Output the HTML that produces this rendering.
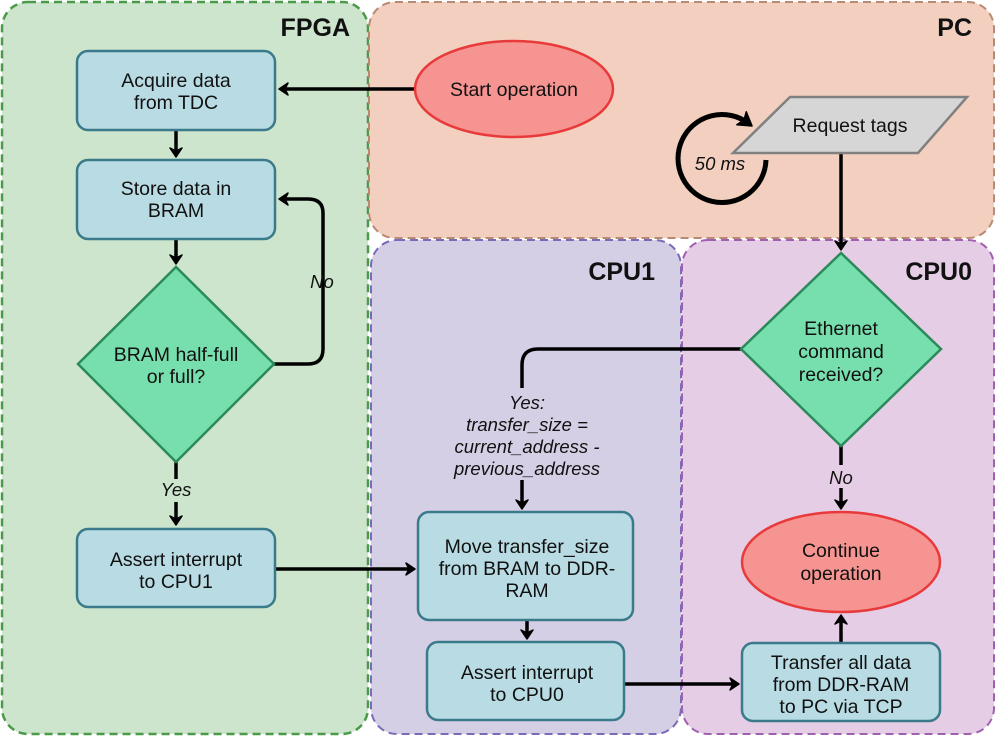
<!DOCTYPE html>
<html><head><meta charset="utf-8"><style>
html,body{margin:0;padding:0;background:#fff}
svg{display:block}
text{font-family:"Liberation Sans","DejaVu Sans",sans-serif;font-size:19.5px;fill:#111}
.t{font-weight:bold;font-size:25px}
.i{font-style:italic;font-size:18.5px}
</style></head><body>
<svg width="996" height="736" viewBox="0 0 996 736" xmlns="http://www.w3.org/2000/svg">
<defs>
<marker id="a" markerWidth="14" markerHeight="14" refX="8" refY="7" orient="auto" markerUnits="userSpaceOnUse">
<path d="M1,1 L10,7 L1,13 L4,7 Z" fill="#000" stroke="#000" stroke-width="1.5" stroke-linejoin="round"/>
</marker>
<marker id="b" markerWidth="18" markerHeight="18" refX="9" refY="9" orient="auto" markerUnits="userSpaceOnUse">
<path d="M1,1 L14,9 L1,17 L4,9 Z" fill="#000" stroke="#000" stroke-width="1.5" stroke-linejoin="round"/>
</marker>
</defs>
<rect x="2" y="2" width="366" height="732" rx="26" fill="#cde5cc" stroke="#4a9a4a" stroke-width="2.5" stroke-dasharray="8,5"/>
<rect x="369" y="2" width="625" height="236" rx="26" fill="#f2cfbe" stroke="#b88a74" stroke-width="2" stroke-dasharray="8,5"/>
<rect x="371" y="240" width="310" height="494" rx="26" fill="#d5cfe5" stroke="#7a6ab8" stroke-width="2" stroke-dasharray="8,5"/>
<rect x="682" y="240" width="312" height="494" rx="26" fill="#e5cde5" stroke="#a060b0" stroke-width="2" stroke-dasharray="8,5"/>
<text class="t" x="350" y="36" text-anchor="end">FPGA</text>
<text class="t" x="972" y="36" text-anchor="end">PC</text>
<text class="t" x="655" y="280" text-anchor="end">CPU1</text>
<text class="t" x="972" y="280" text-anchor="end">CPU0</text>

<g stroke="#000" stroke-width="3.5" fill="none">
<line x1="414" y1="89" x2="281" y2="89" marker-end="url(#a)"/>
<line x1="176" y1="130" x2="176" y2="155" marker-end="url(#a)"/>
<line x1="176" y1="239" x2="176" y2="262" marker-end="url(#a)"/>
<path d="M274,364 L308,364 Q323,364 323,349 L323,213 Q323,199 308,199 L281,199" marker-end="url(#a)"/>
<line x1="176" y1="462" x2="176" y2="479"/>
<line x1="176" y1="502" x2="176" y2="523" marker-end="url(#a)"/>
<line x1="275" y1="569" x2="413" y2="569" marker-end="url(#a)"/>
<line x1="527" y1="620" x2="527" y2="637" marker-end="url(#a)"/>
<line x1="624" y1="684" x2="737" y2="684" marker-end="url(#a)"/>
<line x1="841" y1="643" x2="841" y2="617" marker-end="url(#a)"/>
<line x1="841" y1="446" x2="841" y2="465"/>
<line x1="841" y1="488" x2="841" y2="507" marker-end="url(#a)"/>
<path d="M741,349 L538,349 Q522,349 522,365 L522,388"/>
<line x1="522" y1="480" x2="522" y2="507" marker-end="url(#a)"/>
<line x1="841" y1="153" x2="841" y2="248" marker-end="url(#a)"/>
<path d="M766,160 A44,44 0 1 1 748,123" stroke-width="5" marker-end="url(#b)"/>
</g>

<g fill="#b9dce4" stroke="#3a7a8a" stroke-width="2.5">
<rect x="77" y="51" width="198" height="79" rx="11"/>
<rect x="77" y="160" width="198" height="79" rx="11"/>
<rect x="77" y="529" width="198" height="78" rx="11"/>
<rect x="418" y="512" width="215" height="108" rx="11"/>
<rect x="427" y="642" width="197" height="78" rx="11"/>
<rect x="742" y="643" width="198" height="78" rx="11"/>
</g>
<g fill="#77dfae" stroke="#2a8a5a" stroke-width="2.5">
<polygon points="176,267 274,364 176,462 78,364"/>
<polygon points="841,253 941,349 841,446 741,349"/>
</g>
<g fill="#f59491" stroke="#e83a3a" stroke-width="2.5">
<ellipse cx="514" cy="89" rx="99" ry="48"/>
<ellipse cx="841" cy="562" rx="99" ry="50"/>
</g>
<polygon points="733,153 790,97 967,97 918,153" fill="#d6d6d6" stroke="#808080" stroke-width="2.5"/>

<g text-anchor="middle">
<text x="176" y="87">Acquire data</text><text x="176" y="109">from TDC</text>
<text x="176" y="195">Store data in</text><text x="176" y="217">BRAM</text>
<text x="176" y="361">BRAM half-full</text><text x="176" y="383">or full?</text>
<text x="176" y="566">Assert interrupt</text><text x="176" y="588">to CPU1</text>
<text x="527" y="553">Move transfer_size</text><text x="527" y="575">from BRAM to DDR-</text><text x="527" y="597">RAM</text>
<text x="527" y="679">Assert interrupt</text><text x="527" y="701">to CPU0</text>
<text x="841" y="669">Transfer all data</text><text x="841" y="691">from DDR-RAM</text><text x="841" y="713">to PC via TCP</text>
<text x="841" y="335">Ethernet</text><text x="841" y="358">command</text><text x="841" y="381">received?</text>
<text x="514" y="96">Start operation</text>
<text x="841" y="557">Continue</text><text x="841" y="580">operation</text>
<text x="850" y="132">Request tags</text>
<text class="i" x="322" y="288">No</text>
<text class="i" x="176" y="496">Yes</text>
<text class="i" x="841" y="484">No</text>
<text class="i" x="527" y="409">Yes:</text>
<text class="i" x="527" y="431">transfer_size =</text>
<text class="i" x="527" y="453">current_address -</text>
<text class="i" x="527" y="475">previous_address</text>
<text class="i" x="720" y="170">50 ms</text>
</g>
</svg>
</body></html>
